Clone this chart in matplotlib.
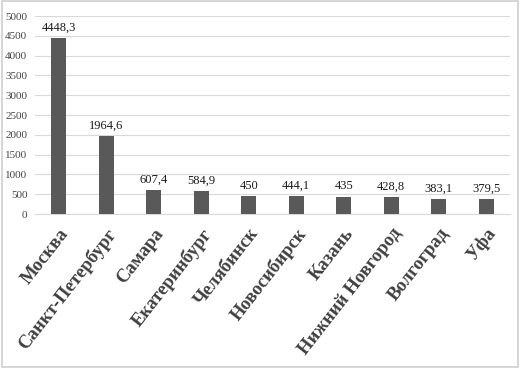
import matplotlib
matplotlib.use("Agg")
import matplotlib.pyplot as plt
from matplotlib.patches import Rectangle

cities = ["Москва", "Санкт-Петербург", "Самара", "Екатеринбург", "Челябинск",
          "Новосибирск", "Казань", "Нижний Новгород", "Волгоград", "Уфа"]
values = [4448.3, 1964.6, 607.4, 584.9, 450, 444.1, 435, 428.8, 383.1, 379.5]
labels = ["4448,3", "1964,6", "607,4", "584,9", "450", "444,1", "435", "428,8", "383,1", "379,5"]
yticks = [0, 500, 1000, 1500, 2000, 2500, 3000, 3500, 4000, 4500, 5000]

plt.rcParams['font.family'] = ['Liberation Serif', 'DejaVu Serif']

fig = plt.figure(figsize=(5.24, 3.70), dpi=100)
ax = fig.add_axes([0.0668, 0.4216, 0.9065, 0.5351])

x = range(len(cities))
ax.bar(x, values, width=0.32, color="#595959", zorder=3)
for i, (v, lab) in enumerate(zip(values, labels)):
    ax.text(i, v + 110, lab, ha="center", va="bottom", fontsize=9, color="#1a1a1a")

ax.set_xlim(-0.5, len(cities) - 0.5)
ax.set_ylim(0, 5000)
ax.set_yticks(yticks)
ax.set_yticklabels([str(t) for t in yticks], fontsize=8, color="#444444")
ax.yaxis.grid(True, color="#d9d9d9", linewidth=0.8, zorder=0)
ax.tick_params(axis="y", length=0, pad=5.5)
ax.tick_params(axis="x", length=0, pad=8)
ax.set_xticks(list(x))
ax.set_xticklabels(cities, rotation=52, ha="right", rotation_mode="anchor",
                   fontsize=13.5, fontweight="bold", color="#404040")
for s in ["top", "right", "left"]:
    ax.spines[s].set_visible(False)
ax.spines["bottom"].set_color("#d9d9d9")

fig.patches.append(Rectangle((0.004, 0.008), 0.985, 0.988, transform=fig.transFigure,
                             fill=False, edgecolor="#d0d0d0", linewidth=1.2))

fig.savefig("out.png", dpi=100)
